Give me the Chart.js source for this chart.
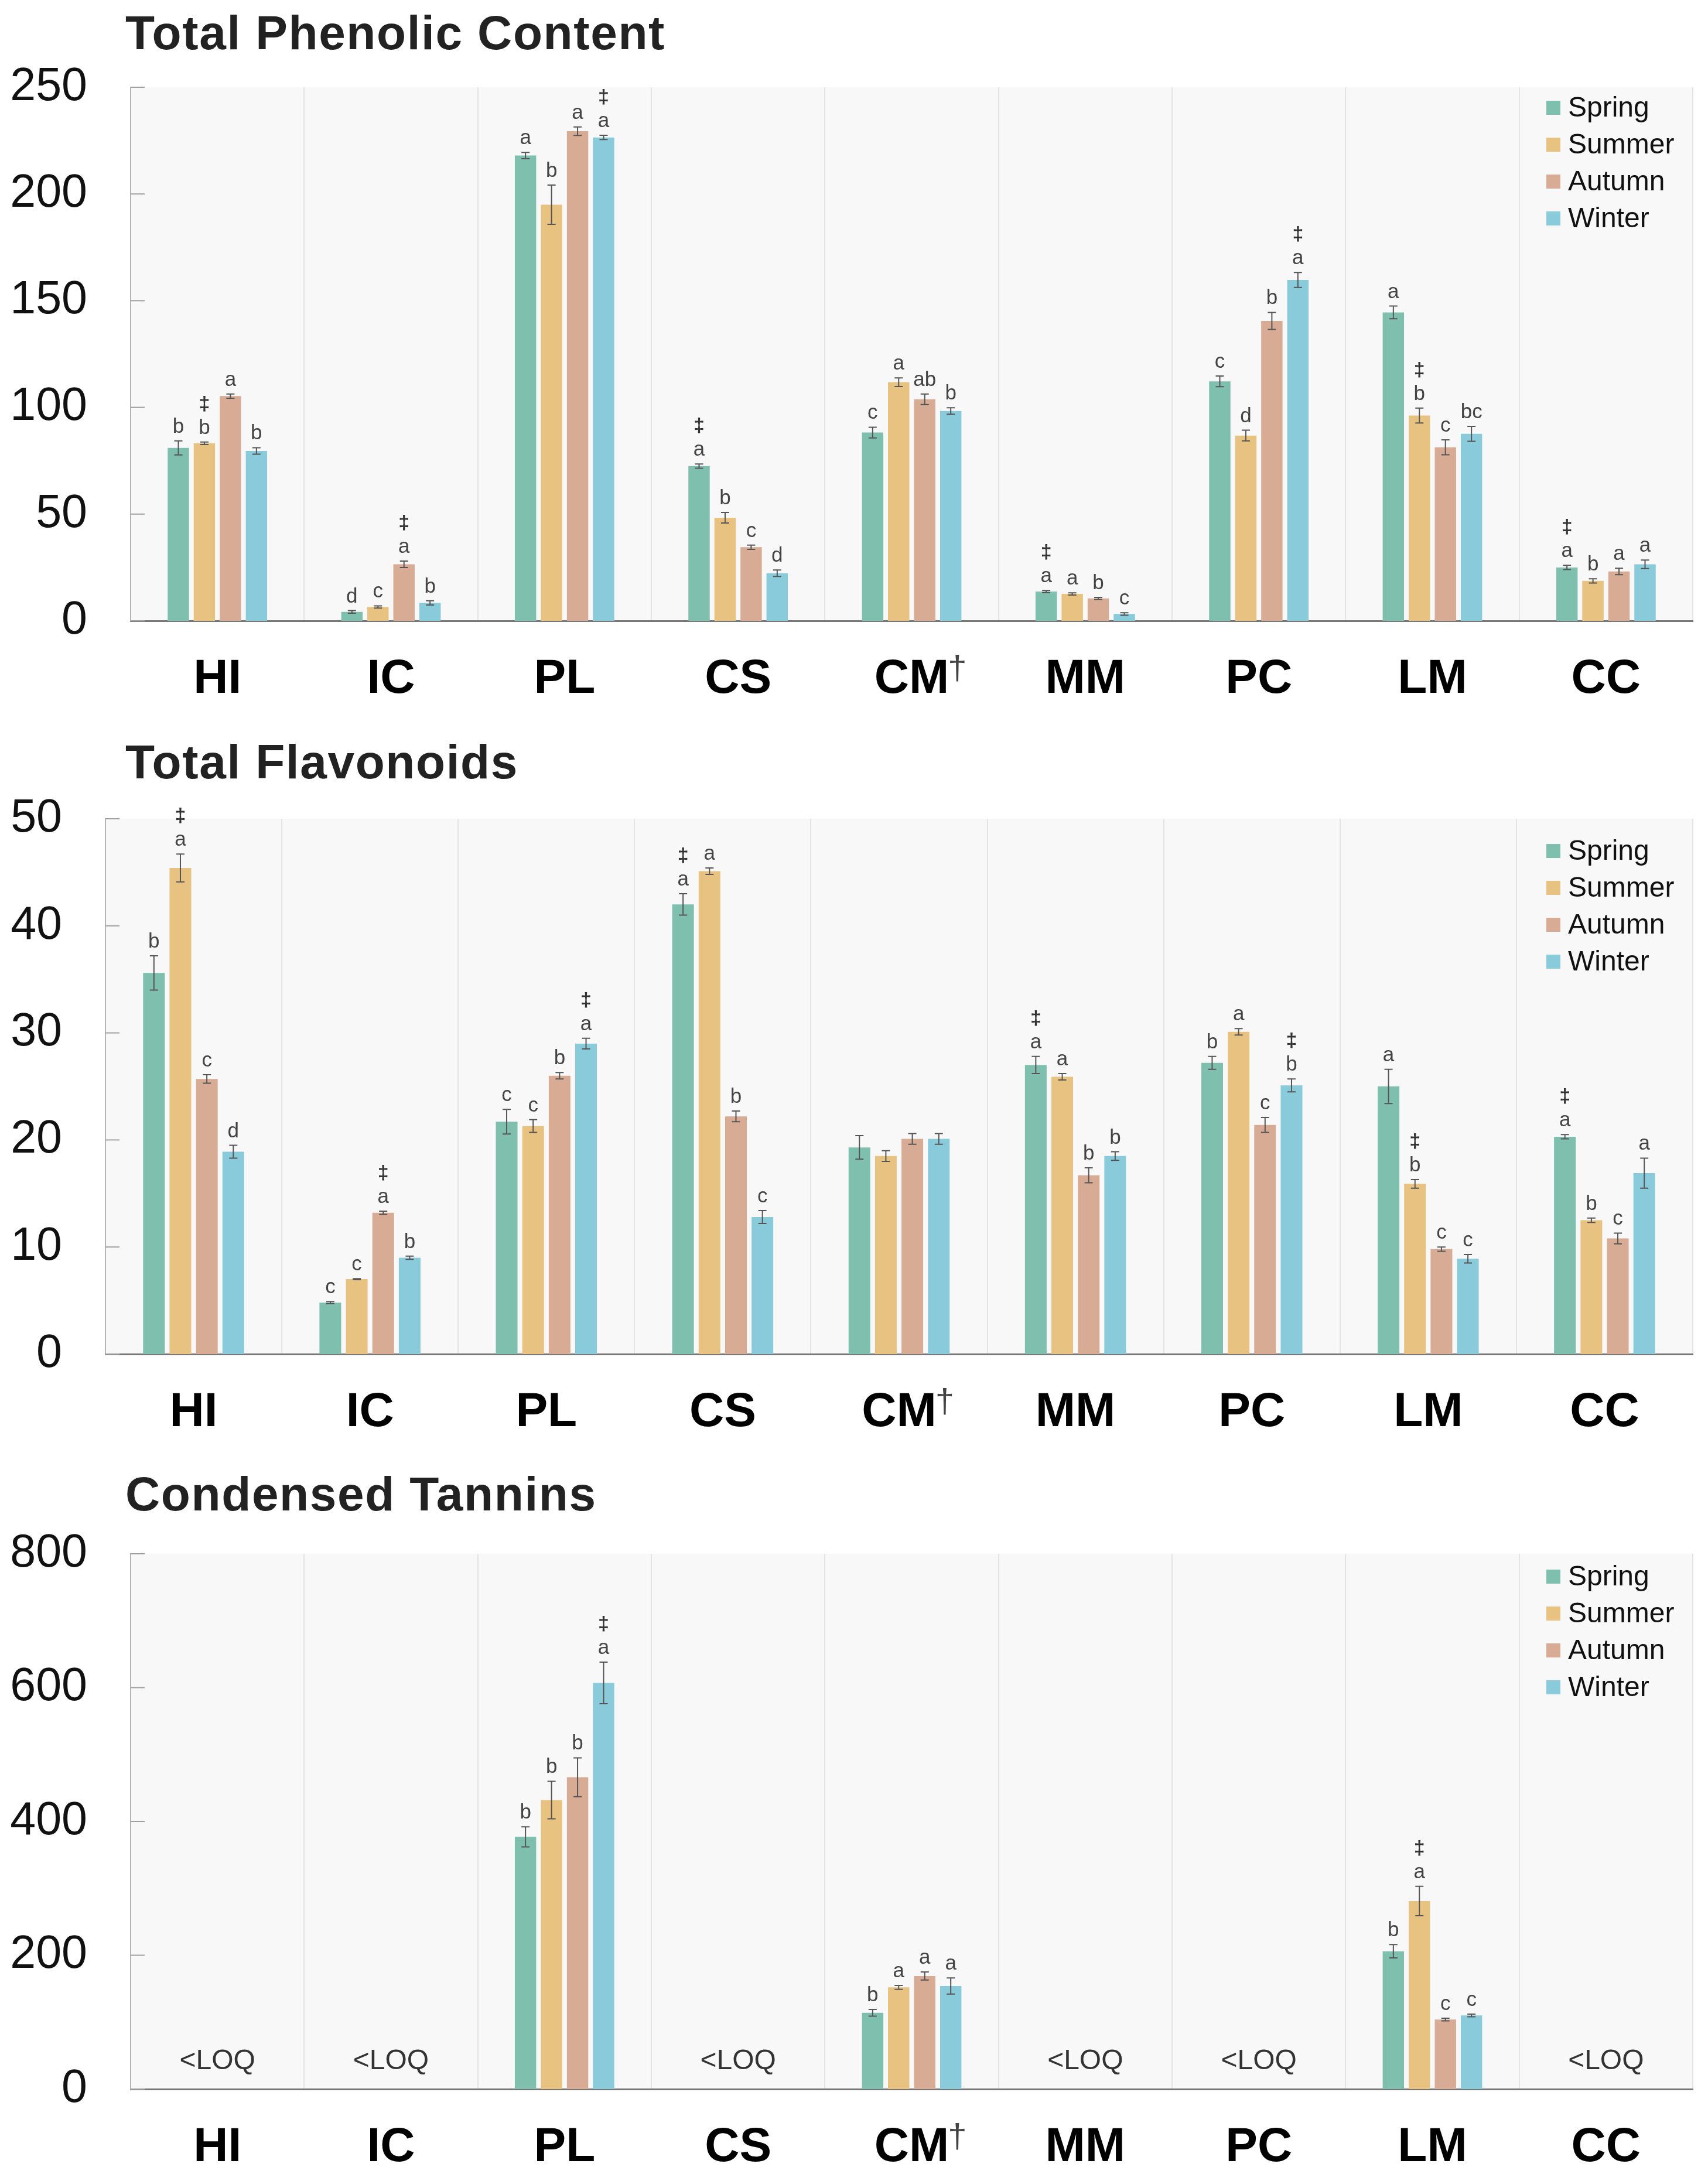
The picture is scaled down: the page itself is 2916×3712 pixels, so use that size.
<!DOCTYPE html>
<html lang="en">
<head>
<meta charset="UTF-8" />
<title>Seasonal phenolics, flavonoids and tannins</title>
<script src="https://cdn.jsdelivr.net/npm/chart.js@4"></script>
<style>
  body { margin: 0; background: #fff; font-family: "Liberation Sans", Arial, sans-serif; }
  .page { position: relative; width: 2916px; height: 3712px; overflow: hidden; }
  .title { position: absolute; left: 214px; margin: 0; font-size: 82px; font-weight: bold; color: #222; letter-spacing: 1.6px; line-height: 1; white-space: nowrap; }
  canvas { position: absolute; left: 0; }
</style>
</head>
<body>
<div class="page">
  <div class="title" style="top:15px">Total Phenolic Content</div>
  <div class="title" style="top:1260px">Total Flavonoids</div>
  <div class="title" style="top:2510px">Condensed Tannins</div>
  <canvas id="tpcChart" width="2916" height="1240" style="top:0px"></canvas>
  <canvas id="tfChart" width="2916" height="1240" style="top:1240px"></canvas>
  <canvas id="ctChart" width="2916" height="1232" style="top:2480px"></canvas>
</div>

<script>
  // ---- data ----
  const sites = ["HI", "IC", "PL", "CS", "CM†", "MM", "PC", "LM", "CC"];
  const seasons = ["Spring", "Summer", "Autumn", "Winter"];
  const seasonColors = ["#7fbfae", "#e8c280", "#d8ab95", "#89cbdb"];

  // Total Phenolic Content
  const tpcSpring = [81.0, 4.2, 218.0, 72.5, 88.2, 13.7, 112.2, 144.5, 25.0];
  const tpcSummer = [83.2, 6.5, 195.0, 48.3, 111.8, 12.6, 86.8, 96.2, 18.7];
  const tpcAutumn = [105.3, 26.5, 229.4, 34.5, 103.8, 10.5, 140.5, 81.3, 23.1];
  const tpcWinter = [79.6, 8.4, 226.5, 22.3, 98.3, 3.2, 159.7, 87.6, 26.5];
  const tpcSpringErr = [3.3, 0.6, 1.5, 1.0, 2.5, 0.5, 2.5, 3.0, 1.0];
  const tpcSummerErr = [0.6, 0.5, 9.2, 2.5, 2.0, 0.5, 2.5, 3.5, 1.0];
  const tpcAutumnErr = [1.0, 1.5, 2.0, 1.0, 2.5, 0.5, 4.0, 3.5, 1.5];
  const tpcWinterErr = [1.5, 1.0, 1.0, 1.5, 1.5, 0.6, 3.5, 3.5, 2.0];
  const tpcSpringSig = ["b", "d", "a", "‡a", "c", "‡a", "c", "a", "‡a"];
  const tpcSummerSig = ["‡b", "c", "b", "b", "a", "a", "d", "‡b", "b"];
  const tpcAutumnSig = ["a", "‡a", "a", "c", "ab", "b", "b", "c", "a"];
  const tpcWinterSig = ["b", "b", "‡a", "d", "b", "c", "‡a", "bc", "a"];
  const tpcTicks = [0, 50, 100, 150, 200, 250];

  // Total Flavonoids
  const tfSpring = [35.6, 4.8, 21.7, 42.0, 19.3, 27.0, 27.2, 25.0, 20.3];
  const tfSummer = [45.4, 7.0, 21.3, 45.1, 18.5, 25.9, 30.1, 15.9, 12.5];
  const tfAutumn = [25.7, 13.2, 26.0, 22.2, 20.1, 16.7, 21.4, 9.8, 10.8];
  const tfWinter = [18.9, 9.0, 29.0, 12.8, 20.1, 18.5, 25.1, 8.9, 16.9];
  const tfSpringErr = [1.6, 0.1, 1.15, 1.0, 1.1, 0.8, 0.6, 1.6, 0.2];
  const tfSummerErr = [1.3, 0.05, 0.6, 0.3, 0.5, 0.3, 0.3, 0.4, 0.2];
  const tfAutumnErr = [0.4, 0.15, 0.3, 0.5, 0.5, 0.7, 0.7, 0.2, 0.5];
  const tfWinterErr = [0.6, 0.15, 0.5, 0.6, 0.5, 0.4, 0.6, 0.4, 1.4];
  const tfSpringSig = ["b", "c", "c", "‡a", "", "‡a", "b", "a", "‡a"];
  const tfSummerSig = ["‡a", "c", "c", "a", "", "a", "a", "‡b", "b"];
  const tfAutumnSig = ["c", "‡a", "b", "b", "", "b", "c", "c", "c"];
  const tfWinterSig = ["d", "b", "‡a", "c", "", "b", "‡b", "c", "a"];
  const tfTicks = [0, 10, 20, 30, 40, 50];

  // Condensed Tannins (null = below limit of quantification)
  const ctSpring = [null, null, 377, null, 114, null, null, 206, null];
  const ctSummer = [null, null, 432, null, 152, null, null, 281, null];
  const ctAutumn = [null, null, 466, null, 169, null, null, 104, null];
  const ctWinter = [null, null, 607, null, 154, null, null, 110, null];
  const ctSpringErr = [null, null, 15, null, 5, null, null, 10, null];
  const ctSummerErr = [null, null, 28, null, 3, null, null, 22, null];
  const ctAutumnErr = [null, null, 29, null, 6, null, null, 2, null];
  const ctWinterErr = [null, null, 31, null, 12, null, null, 2, null];
  const ctSpringSig = ["", "", "b", "", "b", "", "", "b", ""];
  const ctSummerSig = ["", "", "b", "", "a", "", "", "‡a", ""];
  const ctAutumnSig = ["", "", "b", "", "a", "", "", "c", ""];
  const ctWinterSig = ["", "", "‡a", "", "a", "", "", "c", ""];
  const ctNotes = ["<LOQ", "<LOQ", "", "<LOQ", "", "<LOQ", "<LOQ", "", "<LOQ"];
  const ctTicks = [0, 200, 400, 600, 800];

  const FONT = '"Liberation Sans", Arial, sans-serif';

  // background, inward y ticks, error bars, letters, legend, notes
  const panelExtras = {
    id: "panelExtras",
    beforeDraw(chart) {
      const { ctx, chartArea: a } = chart;
      ctx.save();
      ctx.fillStyle = "#f8f8f8";
      ctx.fillRect(a.left, a.top, a.right - a.left, a.bottom - a.top);
      ctx.restore();
    },
    afterDatasetsDraw(chart) {
      const { ctx, chartArea: a } = chart;
      const y = chart.scales.y;
      ctx.save();
      ctx.strokeStyle = "#a0a0a0";
      ctx.lineWidth = 2;
      y.ticks.forEach(t => {
        const py = y.getPixelForValue(t.value);
        ctx.beginPath();
        ctx.moveTo(a.left, py);
        ctx.lineTo(a.left + 24, py);
        ctx.stroke();
      });

      chart.data.datasets.forEach((ds, di) => {
        const meta = chart.getDatasetMeta(di);
        meta.data.forEach((bar, i) => {
          const v = ds.data[i];
          if (v == null) return;
          const e = ds.err[i] || 0;
          const top = y.getPixelForValue(v + e);
          const bot = y.getPixelForValue(v - e);
          ctx.strokeStyle = "#555";
          ctx.lineWidth = 2;
          ctx.beginPath();
          ctx.moveTo(bar.x, top); ctx.lineTo(bar.x, bot);
          ctx.moveTo(bar.x - 7, top); ctx.lineTo(bar.x + 7, top);
          ctx.moveTo(bar.x - 7, bot); ctx.lineTo(bar.x + 7, bot);
          ctx.stroke();

          const sig = ds.sig[i];
          if (!sig) return;
          const dagger = sig.startsWith("‡");
          const letter = dagger ? sig.slice(1) : sig;
          const base = top - 14;
          ctx.fillStyle = "#444";
          ctx.textAlign = "center";
          ctx.textBaseline = "alphabetic";
          ctx.font = "35px " + FONT;
          ctx.fillText(letter, bar.x, base);
          if (dagger) {
            ctx.font = "bold 34px " + FONT;
            ctx.fillStyle = "#333";
            ctx.fillText("‡", bar.x, base - 41);
          }
        });
      });
      ctx.restore();
    },
    afterDraw(chart, args, opts) {
      const { ctx, chartArea: a } = chart;
      const x = chart.scales.x;
      ctx.save();

      // legend
      ctx.textAlign = "left";
      ctx.textBaseline = "middle";
      ctx.font = "48px " + FONT;
      chart.data.datasets.forEach((ds, i) => {
        const cy = a.top + opts.legendTop + i * 63;
        ctx.fillStyle = ds.backgroundColor;
        ctx.fillRect(a.right - 250, cy - 12, 24, 24);
        ctx.fillStyle = "#111";
        ctx.fillText(ds.label, a.right - 213, cy + 2);
      });

      // <LOQ notes
      if (opts.notes) {
        ctx.textAlign = "center";
        ctx.font = "48px " + FONT;
        ctx.fillStyle = "#333";
        opts.notes.forEach((n, i) => {
          if (n) ctx.fillText(n, x.getPixelForValue(i), a.bottom - 47);
        });
      }

      // superscript dagger on category labels
      const tf = x.options.ticks.font;
      const labelMid = x.top + x.options.ticks.padding + tf.size * 1.2 / 2;
      chart.data.labels.forEach((lab, i) => {
        if (!lab.includes("†")) return;
        ctx.font = "bold " + tf.size + "px " + FONT;
        const w = ctx.measureText(lab.replace("†", "")).width;
        ctx.font = "58px " + FONT;
        ctx.fillStyle = "#444";
        ctx.textAlign = "left";
        ctx.textBaseline = "alphabetic";
        ctx.fillText("†", x.getPixelForValue(i) + w / 2 - 2, labelMid + tf.size * 0.36 - 30);
      });
      ctx.restore();
    }
  };

  function makeSeries(values, errs, sigs) {
    return seasons.map((s, k) => ({
      label: s,
      data: values[k],
      err: errs[k],
      sig: sigs[k],
      backgroundColor: seasonColors[k],
      borderWidth: 0,
      categoryPercentage: 0.6,
      barPercentage: 0.82
    }));
  }

  function makeChart(id, datasets, ticks, box, notes) {
    const ctx = document.getElementById(id).getContext("2d");
    return new Chart(ctx, {
      type: "bar",
      data: { labels: sites, datasets: datasets },
      options: {
        responsive: false,
        animation: false,
        devicePixelRatio: 1,
        layout: { padding: { top: box.top, right: 26, left: 0, bottom: 0 } },
        plugins: {
          legend: { display: false },
          tooltip: { enabled: false },
          panelExtras: { legendTop: box.legendTop, notes: notes }
        },
        scales: {
          x: {
            grid: { offset: true, color: "#e4e4e4", lineWidth: 2, drawTicks: false },
            border: { color: "#777", width: 3 },
            ticks: {
              padding: 51,
              color: "#000",
              font: { family: FONT, size: 82, weight: "bold" },
              callback: function (value) { return this.getLabelForValue(value).replace("†", ""); }
            },
            afterFit: s => { s.height = box.xHeight; }
          },
          y: {
            min: ticks[0],
            max: ticks[ticks.length - 1],
            afterBuildTicks: s => { s.ticks = ticks.map(v => ({ value: v })); },
            grid: { display: false, drawTicks: false },
            border: { color: "#b5b5b5", width: 2 },
            ticks: { padding: 74, color: "#111", font: { family: FONT, size: 79 } },
            afterFit: s => { s.width = box.yWidth; }
          }
        }
      },
      plugins: [panelExtras]
    });
  }

  makeChart("tpcChart",
    makeSeries([tpcSpring, tpcSummer, tpcAutumn, tpcWinter],
               [tpcSpringErr, tpcSummerErr, tpcAutumnErr, tpcWinterErr],
               [tpcSpringSig, tpcSummerSig, tpcAutumnSig, tpcWinterSig]),
    tpcTicks, { top: 149, xHeight: 180, yWidth: 223, legendTop: 35 }, null);

  makeChart("tfChart",
    makeSeries([tfSpring, tfSummer, tfAutumn, tfWinter],
               [tfSpringErr, tfSummerErr, tfAutumnErr, tfWinterErr],
               [tfSpringSig, tfSummerSig, tfAutumnSig, tfWinterSig]),
    tfTicks, { top: 158, xHeight: 168, yWidth: 180, legendTop: 55 }, null);

  makeChart("ctChart",
    makeSeries([ctSpring, ctSummer, ctAutumn, ctWinter],
               [ctSpringErr, ctSummerErr, ctAutumnErr, ctWinterErr],
               [ctSpringSig, ctSummerSig, ctAutumnSig, ctWinterSig]),
    ctTicks, { top: 173, xHeight: 145, yWidth: 223, legendTop: 39 }, ctNotes);
</script>
</body>
</html>
